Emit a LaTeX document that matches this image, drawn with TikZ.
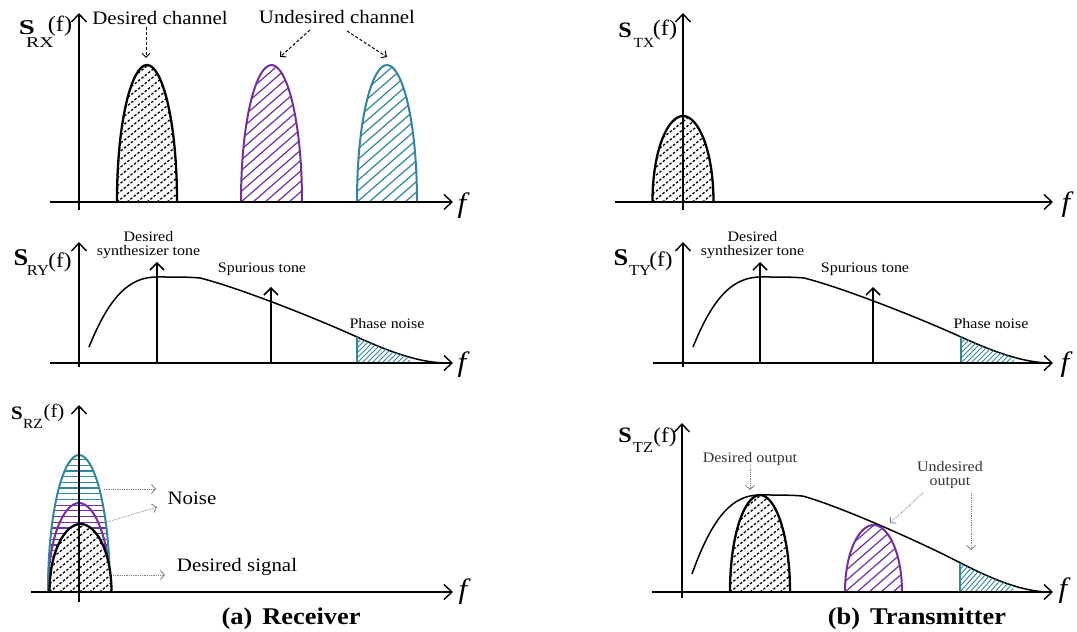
\documentclass[tikz,border=0pt]{standalone}
\usepackage{fontspec}
\setmainfont{Liberation Serif}[FakeStretch=1.1]
\usepackage{graphicx}
\usetikzlibrary{arrows.meta}
\definecolor{pur}{RGB}{112,48,160}
\definecolor{tea}{RGB}{49,133,156}
\newcommand{\fs}[1]{\fontsize{#1}{#1}\selectfont}
\def\speccurve{(10,16) .. controls (31,68) and (51,86) .. (78,86) .. controls (96,86) and (111,86) .. (121,85) .. controls (161,75) and (241,43) .. (278,26) .. controls (311,11) and (341,0) .. (368,0)}
% #1 xc, #2 half width, #3 height, #4 outline style, #5 hatch style, #6 step, #7 slope*100
\newcommand{\hbump}[7]{%
\path[fill=white] ({#1-#2},0) .. controls ({#1-#2},{0.6*#3}) and ({#1-0.5*#2},#3) .. (#1,#3) .. controls ({#1+0.5*#2},#3) and ({#1+#2},{0.6*#3}) .. ({#1+#2},0) -- cycle;
\begin{scope}
\clip ({#1-#2},0) .. controls ({#1-#2},{0.6*#3}) and ({#1-0.5*#2},#3) .. (#1,#3) .. controls ({#1+0.5*#2},#3) and ({#1+#2},{0.6*#3}) .. ({#1+#2},0) -- cycle;
\foreach \k in {0,#6,...,320} \draw[#5] ({#1-#2-180+\k},0) -- ++(180,{1.8*#7});
\end{scope}
\draw[#4] ({#1-#2},0) .. controls ({#1-#2},{0.6*#3}) and ({#1-0.5*#2},#3) .. (#1,#3) .. controls ({#1+0.5*#2},#3) and ({#1+#2},{0.6*#3}) .. ({#1+#2},0);
}
\newcommand{\phasenoise}{%
\begin{scope}
\clip (278,0) -- (278,26) .. controls (311,11) and (341,0) .. (368,0) -- cycle;
\clip (278,-1) rectangle (331,100);
\foreach \k in {0,5,...,140} \draw[tea,line width=0.9pt] ({278-70+\k},0) -- ++(70,70);
\end{scope}
\draw[tea,line width=1.4pt] (278,0) -- (278,26);
}
\begin{document}
\begin{tikzpicture}[x=1pt,y=1pt,
  ax/.style={line width=1.4pt,-{Straight Barb[length=8pt,width=15pt,line width=1.4pt]}},
  tone/.style={line width=1.5pt,-{Straight Barb[length=7pt,width=14pt,line width=1.5pt]}},
  curve/.style={line width=1.5pt},
  bhatch/.style={line width=1.3pt,dash pattern=on 2.5pt off 1.8pt},
  phatch/.style={pur,line width=1.2pt},
  thatch/.style={tea,line width=1.2pt},
  dasharr/.style={line width=1pt,densely dashed,-{Straight Barb[length=4pt,width=8pt,line width=1pt]}},
  grayarr/.style={gray,line width=0.8pt,densely dotted,-{Straight Barb[length=4pt,width=9pt,line width=0.8pt]}},
  lbl/.style={inner sep=0pt},
  sbig/.style={inner sep=0pt,font=\bfseries},
  flab/.style={inner sep=0pt,font=\fs{28}\itshape},
]
\useasboundingbox (0,0) rectangle (1077,632);

% ================= RX panel =================
\begin{scope}[shift={(79,430)}]
  \hbump{68}{30}{137}{line width=2.3pt}{bhatch}{10}{80}
  \hbump{192.5}{30.5}{137}{pur,line width=2pt}{phatch}{12}{87}
  \hbump{308}{30}{137}{tea,line width=2pt}{thatch}{12}{87}
  \coordinate (rxo) at (0,-8); \coordinate (rxt) at (0,189);
  \coordinate (rxl) at (-29,0); \coordinate (rxr) at (374,0);
  \draw[ax] (rxo) -- (rxt);
  \draw[ax] (rxl) -- (rxr);
\end{scope}
\node[sbig,font=\fs{21}\bfseries] (srx) at (27,604) {\scalebox{1.25}[1]{S}};
\node[lbl,font=\fs{15}] (srxs) at (40,589) {\scalebox{1.2}[1]{RX}};
\node[lbl,font=\fs{22}] (srxf) at (60,606) {(f)};
\node[flab] (frx) at (462,426) {f};
\node[lbl,font=\fs{19}] (dch) at (160,614) {Desired channel};
\node[lbl,font=\fs{19}] (uch) at (337,615) {Undesired channel};
\coordinate (dchA) at (146,605); \coordinate (dchB) at (146,574);
\coordinate (uchA) at (310,602); \coordinate (uchB) at (280,575);
\coordinate (uchC) at (347,601); \coordinate (uchD) at (387,575);
\draw[dasharr] (dchA) -- (dchB);
\draw[dasharr] (uchA) -- (uchB);
\draw[dasharr] (uchC) -- (uchD);

% ================= RY panel =================
\begin{scope}[shift={(79,269)}]
  \draw[curve] \speccurve;
  \phasenoise
  \coordinate (ry1b) at (78,0); \coordinate (ry1t) at (78,101);
  \coordinate (ry2b) at (192,0); \coordinate (ry2t) at (192,76);
  \draw[tone] (ry1b) -- (ry1t);
  \draw[tone] (ry2b) -- (ry2t);
  \coordinate (ryo) at (0,-4); \coordinate (ryt) at (0,121);
  \coordinate (ryl) at (-29,0); \coordinate (ryr) at (374,0);
  \draw[ax] (ryo) -- (ryt);
  \draw[ax] (ryl) -- (ryr);
\end{scope}
\node[sbig,font=\fs{24}\bfseries] (sry) at (21,374) {S};
\node[lbl,font=\fs{15}] (srys) at (38,361) {RY};
\node[lbl,font=\fs{21}] (sryf) at (60,370) {(f)};
\node[flab] (fry) at (462,267) {f};
\node[lbl,font=\fs{14.5},align=center] (rydes) at (148.5,387) {Desired\\[-1pt]synthesizer tone};
\node[lbl,font=\fs{14.5}] (ryspur) at (262,363) {Spurious tone};
\node[lbl,font=\fs{14.5}] (ryph) at (387,308) {Phase noise};

% ================= RZ panel =================
\begin{scope}[shift={(79,40)}]
  \begin{scope}
    \clip (-31,0) .. controls (-31,82.2) and (-15.5,137) .. (0,137) .. controls (15.5,137) and (31,82.2) .. (31,0) -- cycle;
    \foreach \i in {0,...,8} \draw[tea,line width=1.2pt] (-40,{92.5+5.7*\i}) -- (40,{92.5+5.7*\i});
    \foreach \i in {0,...,15} \draw[pur,line width=1.2pt] (-40,{86.8-5.7*\i}) -- (40,{86.8-5.7*\i});
  \end{scope}
  \draw[pur,line width=2pt] (-31,0) .. controls (-31,53.4) and (-15.5,89) .. (0,89) .. controls (15.5,89) and (31,53.4) .. (31,0);
  \draw[tea,line width=2pt] (-31,0) .. controls (-31,82.2) and (-15.5,137) .. (0,137) .. controls (15.5,137) and (31,82.2) .. (31,0);
  \hbump{1.5}{31}{68}{line width=2.3pt}{bhatch}{10}{80}
  \coordinate (rzo) at (0,-10); \coordinate (rzt) at (0,187);
  \coordinate (rzl) at (-48,0); \coordinate (rzr) at (374,0);
  \draw[ax] (rzo) -- (rzt);
  \draw[ax] (rzl) -- (rzr);
\end{scope}
\node[sbig,font=\fs{19}\bfseries] (srz) at (17,219) {S};
\node[lbl,font=\fs{14}] (srzs) at (33,208) {RZ};
\node[lbl,font=\fs{19}] (srzf) at (54,219) {(f)};
\node[flab] (frz) at (463,40) {f};
\node[lbl,font=\fs{19}] (noise) at (192,134) {Noise};
\node[lbl,font=\fs{19}] (dsig) at (237,65) {Desired signal};
\coordinate (nzA) at (104,143); \coordinate (nzB) at (156,143);
\coordinate (nzC) at (107,110); \coordinate (nzD) at (157,125);
\coordinate (dsA) at (113,57); \coordinate (dsB) at (165,57);
\draw[grayarr] (nzA) -- (nzB);
\draw[grayarr] (nzC) -- (nzD);
\draw[grayarr] (dsA) -- (dsB);
\node[lbl,font=\fs{24}\bfseries] (capa) at (291,13) {(a)\hspace{10pt}Receiver};

% ================= TX panel =================
\begin{scope}[shift={(683,430)}]
  \hbump{0}{30.5}{86}{line width=2.3pt}{bhatch}{10}{80}
  \coordinate (txo) at (0,-8); \coordinate (txt) at (0,189);
  \coordinate (txl) at (-68,0); \coordinate (txr) at (370,0);
  \draw[ax] (txo) -- (txt);
  \draw[ax] (txl) -- (txr);
\end{scope}
\node[sbig,font=\fs{22}\bfseries] (stx) at (625,602) {S};
\node[lbl,font=\fs{14}] (stxs) at (644,589) {TX};
\node[lbl,font=\fs{22}] (stxf) at (665,602) {(f)};
\node[flab] (ftx) at (1066,427) {f};

% ================= TY panel =================
\begin{scope}[shift={(683,269)}]
  \draw[curve] \speccurve;
  \phasenoise
  \coordinate (ty1b) at (77,0); \coordinate (ty1t) at (77,101);
  \coordinate (ty2b) at (190,0); \coordinate (ty2t) at (190,76);
  \draw[tone] (ty1b) -- (ty1t);
  \draw[tone] (ty2b) -- (ty2t);
  \coordinate (tyo) at (0,-4); \coordinate (tyt) at (0,121);
  \coordinate (tyl) at (-30,0); \coordinate (tyr) at (370,0);
  \draw[ax] (tyo) -- (tyt);
  \draw[ax] (tyl) -- (tyr);
\end{scope}
\node[sbig,font=\fs{24}\bfseries] (sty) at (621,374) {S};
\node[lbl,font=\fs{15}] (stys) at (640,361) {TY};
\node[lbl,font=\fs{21}] (styf) at (661,371) {(f)};
\node[flab] (fty) at (1065,267) {f};
\node[lbl,font=\fs{14.5},align=center] (tydes) at (752.5,387) {Desired\\[-1pt]synthesizer tone};
\node[lbl,font=\fs{14.5}] (tyspur) at (865,363) {Spurious tone};
\node[lbl,font=\fs{14.5}] (typh) at (991,308) {Phase noise};

% ================= TZ panel =================
\begin{scope}[shift={(682,40)}]
  \begin{scope}[yscale=1.128]
    \draw[curve] \speccurve;
    \phasenoise
  \end{scope}
  \hbump{78}{30}{97}{line width=2.3pt}{bhatch}{10}{80}
  \hbump{191.5}{28.5}{67}{pur,line width=2pt}{phatch}{12}{87}
  \coordinate (tzo) at (0,-6); \coordinate (tzt) at (0,169);
  \coordinate (tzl) at (-30,0); \coordinate (tzr) at (371,0);
  \draw[ax] (tzo) -- (tzt);
  \draw[ax] (tzl) -- (tzr);
\end{scope}
\node[sbig,font=\fs{22}\bfseries] (stz) at (625,197) {S};
\node[lbl,font=\fs{15}] (stzs) at (643,184) {TZ};
\node[lbl,font=\fs{21}] (stzf) at (665,195) {(f)};
\node[flab] (ftz) at (1063,41) {f};
\node[lbl,font=\fs{14.5},text=black!80] (dout) at (750,173) {Desired output};
\node[lbl,font=\fs{14.5},text=black!80,align=center] (uout) at (950,157) {Undesired\\[-1pt]output};
\coordinate (doA) at (750,167); \coordinate (doB) at (750,142);
\coordinate (uoA) at (923,139); \coordinate (uoB) at (890,109);
\coordinate (uoC) at (971,139); \coordinate (uoD) at (971,82);
\draw[grayarr] (doA) -- (doB);
\draw[grayarr] (uoA) -- (uoB);
\draw[grayarr] (uoC) -- (uoD);
\node[lbl,font=\fs{24}\bfseries] (capb) at (917,13) {(b)\hspace{10pt}Transmitter};
\end{tikzpicture}
\end{document}
